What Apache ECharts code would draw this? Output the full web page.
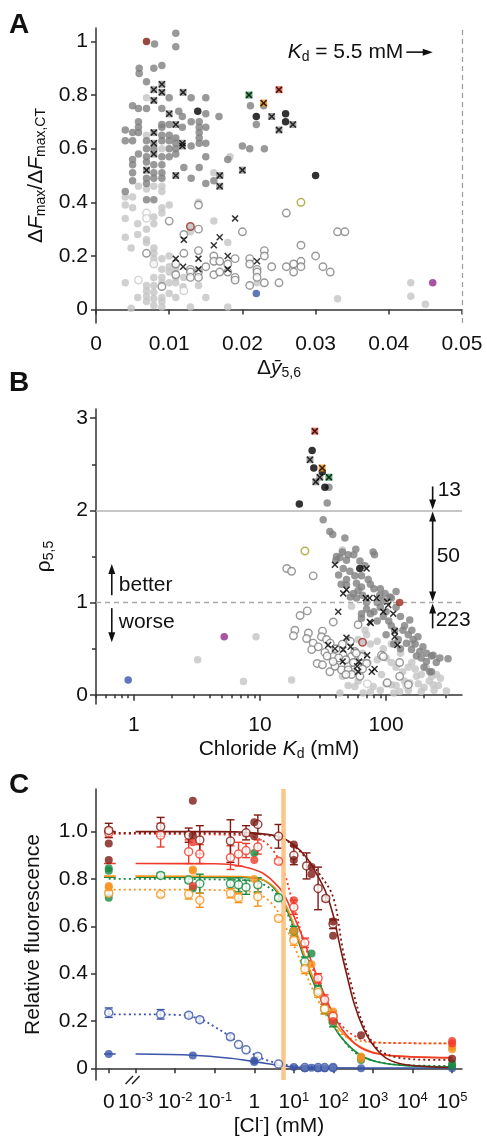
<!DOCTYPE html>
<html lang="en">
<head>
<meta charset="UTF-8">
<title>Chloride sensor screen</title>
<script src="https://cdn.jsdelivr.net/npm/echarts@6/dist/echarts.min.js"></script>
<style>
    html, body { margin: 0; padding: 0; background: #fff; }
    #main { width: 487px; height: 1139px; }
</style>
</head>
<body>
<div id="main"></div>
<script type="text/javascript">
// ---------- panel A: dFmax ratio vs dy(5,6) ----------
var aDark = [[0.0080,0.99],[0.0109,1.03],[0.0109,0.98],[0.0059,0.90],[0.0059,0.88],[0.0079,0.90],[0.0090,0.91],[0.0069,0.85],
    [0.0100,0.79],[0.0130,0.79],[0.0150,0.79],[0.0050,0.76],[0.0058,0.75],[0.0069,0.75],[0.0090,0.75],[0.0113,0.74],[0.0118,0.72],
    [0.0150,0.73],[0.0168,0.72],[0.0130,0.70],[0.0141,0.70],[0.0141,0.68],[0.0150,0.68],[0.0090,0.69],[0.0090,0.68],[0.0100,0.69],
    [0.0058,0.70],[0.0058,0.68],[0.0040,0.67],[0.0050,0.66],[0.0040,0.63],[0.0050,0.63],[0.0058,0.66],[0.0090,0.65],[0.0090,0.63],
    [0.0100,0.65],[0.0100,0.63],[0.0109,0.64],[0.0109,0.62],[0.0109,0.60],[0.0130,0.61],[0.0141,0.66],[0.0141,0.64],[0.0141,0.62],
    [0.0150,0.62],[0.0058,0.58],[0.0050,0.56],[0.0050,0.54],[0.0069,0.60],[0.0090,0.57],[0.0100,0.57],[0.0109,0.58],[0.0150,0.57],
    [0.0141,0.53],[0.0079,0.54],[0.0090,0.54],[0.0079,0.51],[0.0090,0.51],[0.0161,0.48],[0.0150,0.47],[0.0180,0.56],[0.0200,0.61],
    [0.0210,0.60],[0.0230,0.60],[0.0211,0.76],[0.0229,0.76],[0.0219,0.69],[0.0090,0.49],[0.0079,0.49],[0.0069,0.49],[0.0130,0.49],
    [0.0040,0.44],[0.0069,0.41],[0.0079,0.41],[0.0050,0.51],[0.0069,0.63],[0.0069,0.55],[0.0079,0.60],[0.0100,0.60],[0.0069,0.57],
    [0.0069,0.47],[0.0118,0.68],[0.0050,0.48],[0.0120,0.53]];
var aLight = [[0.0069,0.79],[0.0069,0.65],[0.0090,0.60],[0.0161,0.51],[0.0170,0.50],[0.0183,0.57],[0.0040,0.42],[0.0040,0.39],
    [0.0050,0.38],[0.0050,0.42],[0.0058,0.46],[0.0069,0.45],[0.0079,0.46],[0.0090,0.44],[0.0090,0.38],[0.0100,0.39],[0.0079,0.345],
    [0.0090,0.36],[0.0040,0.34],[0.0057,0.32],[0.0069,0.30],[0.0079,0.32],[0.0040,0.27],[0.0057,0.28],[0.0069,0.26],[0.0069,0.25],
    [0.0048,0.23],[0.0079,0.23],[0.0079,0.21],[0.0079,0.19],[0.0079,0.17],[0.0090,0.19],[0.0090,0.15],[0.0090,0.12],[0.0100,0.16],
    [0.0100,0.14],[0.0109,0.17],[0.0109,0.15],[0.0109,0.12],[0.0040,0.10],[0.0069,0.07],[0.0069,0.05],[0.0069,0.03],[0.0079,0.065],
    [0.0079,0.04],[0.0079,0.015],[0.0057,0.045],[0.0048,0.005],[0.0090,0.045],[0.0090,0.03],[0.0109,0.045],[0.0119,0.085],
    [0.0129,0.01],[0.0150,0.045],[0.0180,0.01],[0.0100,0.10],[0.0109,0.10],[0.0079,0.12],[0.0090,0.10],[0.0069,0.09],[0.0079,0.09],
    [0.0090,0.01],[0.0100,0.06],[0.0140,0.40],[0.0129,0.29],[0.0161,0.33],[0.0180,0.25],[0.0140,0.09],[0.0220,0.10],[0.0330,0.04],
    [0.0430,0.10],[0.0430,0.05],[0.0450,0.02],[0.0090,0.46],[0.0120,0.12],[0.0100,0.20]];
var aOpen = [[0.0140,0.39],[0.0100,0.33],[0.0140,0.30],[0.0120,0.28],[0.0120,0.21],[0.0109,0.17],[0.0109,0.13],[0.0129,0.15],
    [0.0129,0.14],[0.0129,0.12],[0.0140,0.22],[0.0140,0.14],[0.0140,0.12],[0.0150,0.16],[0.0161,0.20],[0.0161,0.18],[0.0161,0.13],
    [0.0169,0.18],[0.0169,0.14],[0.0180,0.17],[0.0180,0.14],[0.0190,0.19],[0.0190,0.12],[0.0190,0.11],[0.0200,0.29],[0.0210,0.19],
    [0.0210,0.17],[0.0210,0.09],[0.0220,0.15],[0.0220,0.14],[0.0220,0.12],[0.0230,0.22],[0.0230,0.20],[0.0230,0.10],[0.0240,0.16],
    [0.0250,0.10],[0.0260,0.16],[0.0260,0.36],[0.0270,0.17],[0.0270,0.14],[0.0280,0.24],[0.0280,0.18],[0.0280,0.16],[0.0300,0.20],
    [0.0310,0.16],[0.0320,0.14],[0.0330,0.29],[0.0340,0.29],[0.0069,0.21],[0.0090,0.086]];
var aOpenLight = [[0.0069,0.36],[0.0069,0.34],[0.0079,0.17],[0.0058,0.11],[0.0120,0.07]];
var aCrossHi = [[0.0090,0.84],[0.0079,0.82],[0.0090,0.81],[0.0119,0.81],[0.0079,0.78],[0.0100,0.73],[0.0109,0.69],[0.0079,0.66],
    [0.0079,0.62],[0.0118,0.62],[0.0118,0.61],[0.0079,0.58],[0.0069,0.52],[0.0109,0.50],[0.0169,0.50],[0.0169,0.46],[0.0200,0.52],
    [0.0240,0.72],[0.0250,0.67],[0.0269,0.69]];
var aCrossLo = [[0.0120,0.26],[0.0109,0.19],[0.0119,0.16],[0.0140,0.19],[0.0140,0.15],[0.0161,0.24],[0.0169,0.27],[0.0190,0.34],
    [0.0180,0.20],[0.0180,0.15],[0.0220,0.18]];
var aBlack = [[0.0139,0.74],[0.0219,0.72],[0.0259,0.73],[0.0259,0.70],[0.0300,0.50]];
var aDarkRed = [[0.0069,1.00]], aDarkRedOpen = [[0.0129,0.31]], aGreenX = [[0.0209,0.80]], aOrangeX = [[0.0229,0.77]];
var aRedX = [[0.0250,0.82]], aOliveOpen = [[0.0280,0.40]], aBlue = [[0.0219,0.06]], aPurple = [[0.0460,0.10]];
var aKdLine = 0.046;
var aXTicks = [0, 0.01, 0.02, 0.03, 0.04, 0.05];
var aYTicks = [0, 0.2, 0.4, 0.6, 0.8, 1];

// ---------- panel B: rho(5,5) vs chloride Kd (mM) ----------
var bDark = [[34.1,2.08],[35.2,2.25],[31.7,1.90],[35.8,1.77],[37.7,1.74],[47.1,1.70],[57.5,1.58],[78.9,1.55],[81,1.52],[55.4,1.52],
    [43,1.49],[40,1.46],[45.7,1.37],[51.6,1.34],[56.5,1.29],[63.8,1.29],[72.1,1.25],[48.5,1.25],[58.2,1.21],[48.5,1.19],[63.8,1.17],
    [55,1.10],[60,1.13],[65,1.08],[52,1.06],[58.2,1.05],[89,1.08],[95,1.02],[107,1.06],[85,1.00],[63.8,0.88],[63.8,0.83],[70,0.93],
    [80,0.90],[90,0.95],[100,0.90],[110,1.05],[120,0.95],[130,0.85],[105,0.80],[117,0.70],[136,0.70],[150,0.65],[125,0.60],[145,0.56],
    [164,0.60],[159,0.49],[185,0.47],[209,0.45],[229,0.42],[174,0.42],[209,0.36],[229,0.25],[154,0.81],[179,0.63],[196,0.52],
    [236,0.43],[267,0.40],[310,0.39],[222,0.25],[140,0.75],[160,0.70],[110,0.75],[95,0.85],[85,0.80],[75,0.88],[100,0.65],[115,0.55],
    [130,0.50],[170,0.55],[190,0.40],[250,0.35],[200,0.30],[45,1.55],[50,1.52],[62,1.45],[68,1.40],[75,1.20],[80,1.15],[90,1.15],
    [98,1.10],[120,1.12],[70,1.00],[42,1.30],[44,1.20],[40.4,1.50],[48.5,1.46]];
var bLight = [[3.2,0.38],[7.4,0.145],[9.3,0.63],[17.8,0.16],[43,0.02],[56.5,0.09],[65.8,0.02],[79,0.09],[92,0.22],[110,0.11],
    [128,0.035],[154,0.13],[174,0.20],[190,0.035],[236,0.11],[251,0.22],[301,0.04],[209,0.29],[53.2,0.96],[60,0.60],[70,0.65],
    [75,0.55],[85,0.58],[95,0.50],[65,0.45],[72,0.35],[85,0.38],[100,0.40],[110,0.35],[120,0.30],[135,0.25],[150,0.30],[170,0.28],
    [190,0.22],[220,0.15],[260,0.10],[140,0.15],[120,0.10],[100,0.12],[90,0.05],[75,0.03],[60,0.15],[50,0.10],[45,0.20],[55,0.25],
    [40,0.30],[50,0.60],[68,0.70],[110,0.55],[130,0.45],[160,0.35],[180,0.12],[230,0.20],[270,0.18],[200,0.08],[150,0.05],[115,0.02],
    [240,0.05],[160,0.55],[45,1.57]];
var bOpen = [[16.3,1.37],[17.8,1.34],[26.4,1.29],[18.9,0.70],[18.4,0.64],[20.8,0.86],[23.7,0.91],[38.1,0.79],[60,0.76],[24.2,0.67],
    [23.4,0.61],[26.4,0.56],[31.3,0.69],[30.7,0.63],[33.7,0.60],[25.7,0.49],[32.7,0.46],[38.1,0.415],[45.7,0.43],[53.2,0.415],
    [56.5,0.47],[28.4,0.34],[31.3,0.325],[35.8,0.25],[39.3,0.31],[44.3,0.27],[50,0.325],[50,0.27],[63.8,0.415],[70,0.34],[53.2,0.22],
    [92,0.43],[102,0.13],[128,0.20],[150,0.11],[128,0.35],[95,0.415],[42,0.40],[48,0.38],[55,0.35],[60,0.30],[65,0.28],[58,0.45],
    [40,0.50],[36,0.56],[29,0.52],[45,0.55],[52,0.58],[48,0.22],[62,0.20],[38,0.36],[34,0.42]];
var bOpenLight = [[71,0.12],[146,0.10]];
var bCrossHi = [[24.9,2.55],[27.7,2.31],[29.8,2.36]];
var bCrossLo = [[39.3,1.41],[70,1.37],[45.7,1.10],[48.5,1.14],[69,1.05],[74,1.05],[84,1.05],[102,1.01],[104,0.975],[41.7,0.90],
    [74.3,0.79],[95,0.90],[114,0.88],[117,0.69],[117,0.63],[123,0.54],[48.5,0.62],[34.7,0.54],[39.3,0.50],[45.7,0.49],[52.3,0.52],
    [70.8,0.43],[61,0.36],[45.2,0.36],[58.9,0.31],[60,0.25],[77,0.25],[81,0.28],[75.6,0.78]];
var bBlack = [[25.9,2.65],[26.7,2.46],[31.2,2.42],[32.7,2.25],[20.5,2.07],[61.9,1.37]];
var bRedX = [[27.2,2.86]], bOrangeX = [[31.1,2.46]], bGreenX = [[35.2,2.36]], bOliveOpen = [[22.7,1.56]];
var bDarkRed = [[128,1.00]], bDarkRedOpen = [[65,0.57]], bPurple = [[5.2,0.63]], bBlue = [[0.90,0.16]];
var bXTicks = [1, 10, 100];
var bXMinor = [0.5,0.6,0.7,0.8,0.9,2,3,4,5,6,7,8,9,20,30,40,50,60,70,80,90,200,300];
var bYTicks = [0, 1, 2, 3];
var bYMinor = [0.5, 1.5, 2.5];

// ---------- panel C: relative fluorescence vs [Cl-] (mM), 0 = no chloride ----------
// filled: [conc, value]   open: [conc, value, error]
var cDarkRedFill = [[0,0.95],[0,0.88],[0.028,1.13],[0.028,0.985],[1,1.04],[1,0.98],[10,0.945],[10,0.88],[28,0.85],[28,0.82],
    [98,0.62],[98,0.56],[500,0.14],[100000,0.04]];
var cDarkRedOpen = [[0,1.005,0.03],[0.0043,1.02,0.04],[0.022,0.985,0.03],[0.042,0.965,0.06],[0.25,0.96,0.09],[0.62,0.995,0.03],
    [1.23,1.03,0.04],[4.1,0.98,0.05],[10,0.90,0.04],[21,0.855,0.055],[41,0.76,0.09],[64,0.717,0.01],[98,0.61,0.02]];
var cRedFill = [[0.028,0.955],[0.028,0.77],[1,0.88],[10,0.71],[98,0.20],[100000,0.115],[100000,0.105]];
var cRedOpen = [[0,0.995,0.02],[0.0043,0.985,0.05],[0.022,0.915,0.05],[0.042,0.905,0.04],[0.25,0.89,0.05],[0.4,0.905,0.05],
    [0.62,0.92,0.03],[1.23,0.935,0.03],[4.1,0.875,0.01],[10,0.68,0.03],[19,0.53,0.02],[41,0.38,0.02],[60,0.29,0.02],[98,0.22,0.02]];
var cOrangeFill = [[0,0.77],[0,0.765],[0.028,0.835],[0.028,0.84],[1,0.80],[10,0.58],[28,0.44],[98,0.24],[500,0.05],[500,0.04],
    [100000,0.09],[100000,0.08]];
var cOrangeOpen = [[0,0.74,0.01],[0.0043,0.735,0.01],[0.022,0.735,0.02],[0.042,0.71,0.03],[0.25,0.74,0.02],[0.4,0.72,0.02],
    [1.23,0.725,0.04],[4.1,0.633,0.01],[10,0.54,0.02],[19,0.42,0.02],[41,0.32,0.02],[60,0.25,0.02],[98,0.22,0.02]];
var cGreenFill = [[0,0.845],[0,0.835],[0,0.72],[0.028,0.76],[1,0.91],[10,0.58],[28,0.485],[98,0.20],[500,0.035],[500,0.045],
    [100000,0.01],[100000,0.02]];
var cGreenOpen = [[0.0043,0.815,0.01],[0.022,0.795,0.01],[0.042,0.78,0.04],[0.25,0.78,0.02],[0.4,0.775,0.03],[0.62,0.765,0.03],
    [1.23,0.775,0.03],[4.1,0.72,0.01],[10,0.58,0.02],[19,0.45,0.02],[41,0.33,0.02],[60,0.25,0.02],[98,0.195,0.02]];
var cBlueFill = [[0,0.06],[0.028,0.054],[1,0.026],[1,0.033],[10,0.005],[19,0.0],[28,0.002],[41,0.0],[60,0.0],[98,0.002],[500,0.0],
    [100000,0.0]];
var cBlueOpen = [[0,0.235,0.02],[0.0043,0.228,0.02],[0.022,0.224,0.01],[0.042,0.205,0.01],[0.25,0.133,0.01],[0.4,0.10,0],
    [0.62,0.078,0],[1.23,0.05,0],[4.1,0.018,0],[19,0.003,0],[41,0.003,0],[60,0.003,0],[98,0.003,0]];
// fitted curves: [conc, value]
var cDarkRedFit = [[0.001,1.0],[0.1,1.0],[0.44,0.998],[4.0,0.98],[9.6,0.946],[21,0.89],[41,0.81],[64,0.745],[98,0.65],[145,0.52],
    [214,0.40],[339,0.27],[550,0.175],[989,0.10],[2140,0.043],[6840,0.015],[100000,0.003]];
var cDarkRedFitOpen = [[0.001,0.995],[1,0.99],[5,0.97],[10,0.94],[20,0.89],[45,0.82],[100,0.72],[174,0.50],[309,0.33],[550,0.19],
    [1200,0.09],[3160,0.05],[21900,0.036],[100000,0.035]];
var cRedFit = [[0.001,0.865],[0.1,0.864],[0.44,0.855],[1.4,0.83],[3.0,0.79],[5.4,0.74],[9.6,0.65],[17,0.55],[28,0.45],[50,0.34],
    [89,0.245],[174,0.16],[457,0.09],[1445,0.06],[10000,0.048],[100000,0.045]];
var cRedFitOpen = [[0.001,0.99],[0.5,0.985],[1.5,0.965],[3,0.92],[5.4,0.84],[8.7,0.72],[19,0.52],[37,0.38],[73,0.27],[144,0.19],
    [378,0.133],[1445,0.108],[100000,0.105]];
var cOrangeFit = [[0.001,0.812],[0.44,0.81],[1.4,0.80],[3.0,0.77],[5.4,0.71],[9.6,0.615],[17,0.495],[30,0.385],[55,0.285],
    [98,0.20],[214,0.133],[550,0.085],[1760,0.057],[6840,0.05],[100000,0.043]];
var cOrangeFitOpen = [[0.001,0.755],[0.5,0.75],[1.5,0.73],[3,0.69],[5,0.63],[10,0.52],[20,0.40],[40,0.29],[80,0.20],[160,0.145],
    [400,0.118],[1500,0.108],[100000,0.105]];
var cGreenFit = [[0.001,0.807],[0.44,0.806],[1.4,0.80],[3.0,0.765],[5.4,0.70],[9.6,0.605],[17,0.48],[30,0.37],[55,0.27],[98,0.18],
    [214,0.105],[550,0.05],[1760,0.022],[6840,0.011],[100000,0.005]];
var cGreenFitOpen = [[0.001,0.80],[0.5,0.795],[1.5,0.78],[3,0.75],[5,0.70],[10,0.59],[20,0.46],[40,0.33],[80,0.22],[160,0.13],
    [400,0.06],[1500,0.025],[10000,0.012],[100000,0.01]];
var cBlueFit = [[0.001,0.06],[0.03,0.055],[0.25,0.042],[1,0.028],[4.1,0.013],[10,0.005],[50,0.002],[100000,0.001]];
var cBlueFitOpen = [[0.001,0.228],[0.01,0.226],[0.04,0.21],[0.1,0.175],[0.25,0.133],[0.4,0.105],[0.62,0.08],[1.2,0.05],
    [2.5,0.03],[5,0.017],[10,0.01],[100,0.003]];
var cKd = 5.5;
var cXTicks = [0, 0.001, 0.01, 0.1, 1, 10, 100, 1000, 10000, 100000];
var cYTicks = [0, 0.2, 0.4, 0.6, 0.8, 1.0];

// ---------- styling ----------
var FONT = 'Liberation Sans, Arial, Helvetica, sans-serif';
var AX = '#333';
var TICKFONT = 21;
var DOT = 7.5;
var GRAY = '#808080', LIGHT = '#c4c4c4', DARKRED = '#7d1a14', RED = '#ef3a2c', ORANGE = '#f7921e',
    GREEN = '#178a40', BLUE = '#3a55a8', PURPLE = '#93288e', OLIVE = '#a3a12a';
var XMARK = 'path://M1.5,0 L5,3.5 L8.5,0 L10,1.5 L6.5,5 L10,8.5 L8.5,10 L5,6.5 L1.5,10 L0,8.5 L3.5,5 L0,1.5 Z';
var X0 = 2.1e-4; // where "0" sits on the broken log axis of panel C
function cx(c) { return c === 0 ? X0 : c; }

var richTxt = {
    i: {fontStyle: 'italic', fontSize: 21, lineHeight: 24, fontFamily: FONT, color: '#111'},
    s: {fontSize: 14, lineHeight: 8, verticalAlign: 'bottom', fontFamily: FONT, color: '#111'},
    p: {fontSize: 13, lineHeight: 8, verticalAlign: 'top', fontFamily: FONT, color: '#111'}
};
var nameStyle = {fontFamily: FONT, fontSize: 21, color: '#111', lineHeight: 24, rich: richTxt};
var labelSup = {fontFamily: FONT, fontSize: TICKFONT, color: '#111', lineHeight: 22,
    rich: {p: {fontSize: 13, lineHeight: 8, verticalAlign: 'top', fontFamily: FONT, color: '#111'}}};

function axisBase(extra) {
    return Object.assign({
        axisLine: {lineStyle: {color: AX, width: 1.5}},
        splitLine: {show: false}
    }, extra);
}
function tick(vals, len) {
    return {show: true, length: len, customValues: vals, lineStyle: {color: AX, width: 1.5}};
}
function labels(vals, fmt, margin) {
    return {customValues: vals, formatter: fmt, margin: margin, fontFamily: FONT, fontSize: TICKFONT, color: '#111'};
}
function minorAxis(extra) {
    return Object.assign({axisLine: {show: false}, axisLabel: {show: false}, splitLine: {show: false}}, extra);
}

function dots(data, p, color, extra) {
    return Object.assign({
        type: 'scatter', xAxisIndex: p, yAxisIndex: p, data: data, symbol: 'circle', symbolSize: DOT,
        itemStyle: {color: color}, silent: true, z: 3
    }, extra || {});
}
function rings(data, p, color, extra) {
    return Object.assign({
        type: 'scatter', xAxisIndex: p, yAxisIndex: p, data: data, symbol: 'circle', symbolSize: DOT,
        itemStyle: {color: '#fff', borderColor: color, borderWidth: 1.4}, silent: true, z: 3
    }, extra || {});
}
function crosses(data, p, boxColor, z) {
    var out = [];
    if (boxColor) out.push({type: 'scatter', xAxisIndex: p, yAxisIndex: p, data: data, symbol: 'rect', symbolSize: 7,
        itemStyle: {color: boxColor}, silent: true, z: z});
    out.push({type: 'scatter', xAxisIndex: p, yAxisIndex: p, data: data, symbol: XMARK, symbolSize: 7,
        itemStyle: {color: '#000'}, silent: true, z: z});
    return out;
}

// panel C helpers
function fit(data, color, dotted) {
    var d = data.map(function (v) { return [v[0], v[1]]; });
    if (dotted) d.unshift([X0, data[0][1]]);
    return {type: 'line', xAxisIndex: 2, yAxisIndex: 2, data: d, showSymbol: false, smooth: 0.35, silent: true, z: 2,
        lineStyle: {color: color, width: dotted ? 1.8 : 1.6, type: dotted ? [2, 3] : 'solid'}};
}
function stub(data, color) {
    var y0 = data[0][1];
    return {type: 'line', xAxisIndex: 2, yAxisIndex: 2, data: [[X0 / 1.32, y0], [X0 * 1.5, y0]], showSymbol: false,
        silent: true, z: 2, lineStyle: {color: color, width: 1.6}};
}
function cFill(data, color) {
    return dots(data.map(function (v) { return [cx(v[0]), v[1]]; }), 2, color, {symbolSize: 8, z: 5});
}
function cOpen(data, color) {
    return rings(data.map(function (v) { return [cx(v[0]), v[1]]; }), 2, color, {symbolSize: 8, z: 5,
        itemStyle: {color: '#fff', borderColor: color, borderWidth: 1.5}});
}
function errBars(data, color) {
    var d = data.filter(function (v) { return v[2] > 0; })
        .map(function (v) { return [cx(v[0]), v[1] - v[2], v[1] + v[2]]; });
    return {
        type: 'custom', xAxisIndex: 2, yAxisIndex: 2, data: d, silent: true, z: 4,
        renderItem: function (params, api) {
            var lo = api.coord([api.value(0), api.value(1)]);
            var hi = api.coord([api.value(0), api.value(2)]);
            var st = {stroke: color, lineWidth: 1.4};
            return {type: 'group', children: [
                {type: 'line', shape: {x1: lo[0], y1: lo[1], x2: hi[0], y2: hi[1]}, style: st},
                {type: 'line', shape: {x1: lo[0] - 4, y1: lo[1], x2: lo[0] + 4, y2: lo[1]}, style: st},
                {type: 'line', shape: {x1: hi[0] - 4, y1: hi[1], x2: hi[0] + 4, y2: hi[1]}, style: st}
            ]};
        }
    };
}

var series = [];
// A
series.push(dots(aLight, 0, LIGHT, {markLine: {silent: true, symbol: 'none', label: {show: false},
    lineStyle: {color: '#9a9a9a', type: [5, 4], width: 1.2}, data: [{xAxis: aKdLine}]}}));
series.push(rings(aOpenLight, 0, '#c8c8c8'));
series.push(rings(aOpen, 0, GRAY));
series.push(dots(aDark, 0, GRAY));
series = series.concat(crosses(aCrossHi, 0, '#8e8e8e', 4), crosses(aCrossLo, 0, null, 4));
series.push(dots(aBlack, 0, '#000', {z: 4}));
series.push(dots(aDarkRed, 0, DARKRED, {z: 5}));
series.push(rings(aDarkRedOpen, 0, '#a02a22', {z: 5, itemStyle: {color: '#bdbdbd', borderColor: '#a02a22', borderWidth: 1.5}}));
series = series.concat(crosses(aGreenX, 0, '#2f9a52', 5), crosses(aOrangeX, 0, ORANGE, 5), crosses(aRedX, 0, '#f04a3c', 5));
series.push(rings(aOliveOpen, 0, OLIVE, {z: 5, itemStyle: {color: '#fff', borderColor: OLIVE, borderWidth: 1.5}}));
series.push(dots(aBlue, 0, BLUE, {z: 5}));
series.push(dots(aPurple, 0, PURPLE, {z: 5}));

// B
series.push(dots(bLight, 1, LIGHT, {markLine: {silent: true, symbol: 'none', label: {show: false}, data: [
    {yAxis: 2, lineStyle: {color: '#b4b4b4', type: 'solid', width: 1.5}},
    {yAxis: 1, lineStyle: {color: '#a8a8a8', type: [5, 4], width: 1.3}}]}}));
series.push(rings(bOpenLight, 1, '#c8c8c8'));
series.push(rings(bOpen, 1, GRAY));
series.push(dots(bDark, 1, GRAY));
series = series.concat(crosses(bCrossHi, 1, '#8e8e8e', 4), crosses(bCrossLo, 1, null, 4));
series.push(dots(bBlack, 1, '#000', {z: 4}));
series = series.concat(crosses(bRedX, 1, '#f04a3c', 5), crosses(bOrangeX, 1, ORANGE, 5), crosses(bGreenX, 1, '#2f9a52', 5));
series.push(rings(bOliveOpen, 1, OLIVE, {z: 5, itemStyle: {color: '#fff', borderColor: OLIVE, borderWidth: 1.5}}));
series.push(dots(bDarkRed, 1, '#a02a22', {z: 5}));
series.push(rings(bDarkRedOpen, 1, '#a02a22', {z: 5, itemStyle: {color: '#bdbdbd', borderColor: '#a02a22', borderWidth: 1.5}}));
series.push(dots(bPurple, 1, PURPLE, {z: 5}));
series.push(dots(bBlue, 1, BLUE, {z: 5}));

// C
series.push({type: 'line', xAxisIndex: 2, yAxisIndex: 2, data: [], markLine: {silent: true, symbol: 'none',
    label: {show: false}, lineStyle: {color: '#fcc58b', type: 'solid', width: 4.5}, data: [{xAxis: cKd}]}, z: 1});
[[cBlueFit, cBlueFitOpen, BLUE], [cGreenFit, cGreenFitOpen, GREEN], [cOrangeFit, cOrangeFitOpen, ORANGE],
 [cRedFit, cRedFitOpen, RED], [cDarkRedFit, cDarkRedFitOpen, DARKRED]].forEach(function (f) {
    series.push(stub(f[0], f[2]), fit(f[0], f[2], false), fit(f[1], f[2], true));
});
[[cBlueOpen, cBlueFill, BLUE], [cGreenOpen, cGreenFill, GREEN], [cOrangeOpen, cOrangeFill, ORANGE],
 [cRedOpen, cRedFill, RED], [cDarkRedOpen, cDarkRedFill, DARKRED]].forEach(function (g) {
    series.push(errBars(g[0], g[2]), cOpen(g[0], g[2]), cFill(g[1], g[2]));
});

var option = {
    animation: false,
    backgroundColor: '#fff',
    grid: [
        {left: 96, top: 28, width: 366, height: 295},
        {left: 96, top: 409, width: 366, height: 295},
        {left: 96, top: 789, width: 366, height: 295}
    ],
    xAxis: [
        axisBase({gridIndex: 0, type: 'value', min: 0, max: 0.05,
            axisTick: tick(aXTicks, 5),
            axisLabel: labels(aXTicks, function (v) { return v === 0 ? '0' : v.toFixed(2); }, 11),
            name: '{t|Δ}{i|ȳ}{s|5,6}', nameLocation: 'middle', nameGap: 30,
            nameTextStyle: Object.assign({}, nameStyle, {rich: Object.assign({t: {fontSize: 21, lineHeight: 24}}, richTxt)})}),
        axisBase({gridIndex: 1, type: 'log', min: 0.5, max: 400,
            axisTick: tick(bXTicks, 6),
            axisLabel: labels(bXTicks, function (v) { return String(Math.round(v)); }, 11),
            name: 'Chloride {i|K}{s|d} (mM)', nameLocation: 'middle', nameGap: 30, nameTextStyle: nameStyle}),
        axisBase({gridIndex: 2, type: 'log', min: 1e-4, max: 177828,
            axisTick: tick(cXTicks.map(cx), 5),
            axisLabel: Object.assign(labels(cXTicks.map(cx), function (v) {
                if (v < 5e-4) return '0';
                var e = Math.round(Math.log10(v));
                return e === 0 ? '1' : '10{p|' + e + '}';
            }, 11), labelSup),
            name: '[Cl{p|-}] (mM)', nameLocation: 'middle', nameGap: 25, nameTextStyle: nameStyle}),
        minorAxis({gridIndex: 1, type: 'log', min: 0.5, max: 400, position: 'bottom', axisTick: tick(bXMinor, 3.5)})
    ],
    yAxis: [
        axisBase({gridIndex: 0, type: 'value', min: -0.05, max: 1.05,
            axisTick: tick(aYTicks, 5),
            axisLabel: labels(aYTicks, function (v) { return v === 0 ? '0' : v === 1 ? '1' : v.toFixed(1); }, 8),
            name: 'Δ{i|F}{s|max}/Δ{i|F}{s|max,CT}', nameLocation: 'middle', nameGap: 42, nameRotate: 90,
            nameTextStyle: nameStyle}),
        axisBase({gridIndex: 1, type: 'value', min: -0.1, max: 3.1,
            axisTick: tick(bYTicks, 6),
            axisLabel: labels(bYTicks, function (v) { return String(v); }, 8),
            name: 'ρ{s|5,5}', nameLocation: 'middle', nameGap: 40, nameRotate: 90, nameTextStyle: nameStyle}),
        axisBase({gridIndex: 2, type: 'value', min: -0.05, max: 1.18,
            axisTick: tick(cYTicks, 5),
            axisLabel: labels(cYTicks, function (v) { return v === 0 ? '0' : v.toFixed(1); }, 8),
            name: 'Relative fluorescence', nameLocation: 'middle', nameGap: 51, nameRotate: 90, nameTextStyle: nameStyle}),
        minorAxis({gridIndex: 1, type: 'value', min: -0.1, max: 3.1, position: 'left', axisTick: tick(bYMinor, 4)})
    ],
    series: series
};

var myChart = echarts.init(document.getElementById('main'));
myChart.setOption(option);

// annotations tied to the axes
function at(p, v) { return myChart.convertToPixel({xAxisIndex: p, yAxisIndex: p}, v); }
function arrow(x, y1, y2, both) {
    var d = y2 > y1 ? 1 : -1, els = [];
    els.push({type: 'line', shape: {x1: x, y1: both ? y1 + d * 8 : y1, x2: x, y2: y2 - d * 8},
        style: {stroke: '#111', lineWidth: 1.6}});
    els.push({type: 'polygon', shape: {points: [[x - 3.5, y2 - d * 10], [x + 3.5, y2 - d * 10], [x, y2]]}, style: {fill: '#111'}});
    if (both) els.push({type: 'polygon', shape: {points: [[x - 3.5, y1 + d * 10], [x + 3.5, y1 + d * 10], [x, y1]]},
        style: {fill: '#111'}});
    return els;
}
function label(x, y, text, align, size, bold) {
    return {type: 'text', x: x, y: y, style: {text: text, fontFamily: FONT, fontSize: size || 21, fontWeight: bold ? 'bold' : 'normal',
        fill: '#111', align: align || 'left', verticalAlign: 'middle', rich: richTxt}};
}

var g = [];
g.push(label(9, 25, 'A', 'left', 28, true), label(9, 383, 'B', 'left', 28, true), label(9, 785, 'C', 'left', 28, true));
// panel A: Kd annotation
var k1 = at(0, [0.0424, 0.96]), k2 = at(0, [aKdLine, 0.96]);
g.push(label(k1[0] - 3, k1[1], '{i|K}{s|d} = 5.5 mM', 'right'));
g.push({type: 'line', shape: {x1: k1[0], y1: k1[1], x2: k2[0] - 8, y2: k2[1]}, style: {stroke: '#111', lineWidth: 1.6}});
g.push({type: 'polygon', shape: {points: [[k2[0] - 10, k2[1] - 3.5], [k2[0] - 10, k2[1] + 3.5], [k2[0], k2[1]]]}, style: {fill: '#111'}});
// panel B: counts and better/worse
var ax = 234;
var p13 = at(1, [ax, 2.26]), p2 = at(1, [ax, 2]), p1 = at(1, [ax, 1]), p223 = at(1, [ax, 0.72]);
g = g.concat(arrow(p13[0], p13[1], p2[1] - 1), arrow(p2[0], p2[1] + 1, p1[1] - 1, true), arrow(p223[0], p223[1], p1[1] + 1));
g.push(label(p13[0] + 5, p13[1] + 4, '13'), label(p13[0] + 4, (p2[1] + p1[1]) / 2, '50'), label(p223[0] + 3, p223[1] - 8, '223'));
var bu = at(1, [0.667, 1.42]), bm = at(1, [0.667, 1.08]), wm = at(1, [0.667, 0.94]), wd = at(1, [0.667, 0.57]);
g = g.concat(arrow(bm[0], bm[1], bu[1]), arrow(wm[0], wm[1], wd[1]));
g.push(label(bm[0] + 7, bm[1] - 10, 'better'), label(wm[0] + 7, wm[1] + 14, 'worse'));
// panel C: axis break
var br = at(2, [8.4e-4, -0.05]);
g.push({type: 'rect', shape: {x: br[0] - 3.5, y: br[1] - 2, width: 6.5, height: 4}, style: {fill: '#fff'}, z: 100});
g.push({type: 'line', shape: {x1: br[0] - 7, y1: br[1] + 4, x2: br[0] + 0.5, y2: br[1] - 4}, style: {stroke: '#222', lineWidth: 1.4}, z: 101});
g.push({type: 'line', shape: {x1: br[0] - 0.5, y1: br[1] + 4, x2: br[0] + 7, y2: br[1] - 4}, style: {stroke: '#222', lineWidth: 1.4}, z: 101});
myChart.setOption({graphic: g});
</script>
</body>
</html>
